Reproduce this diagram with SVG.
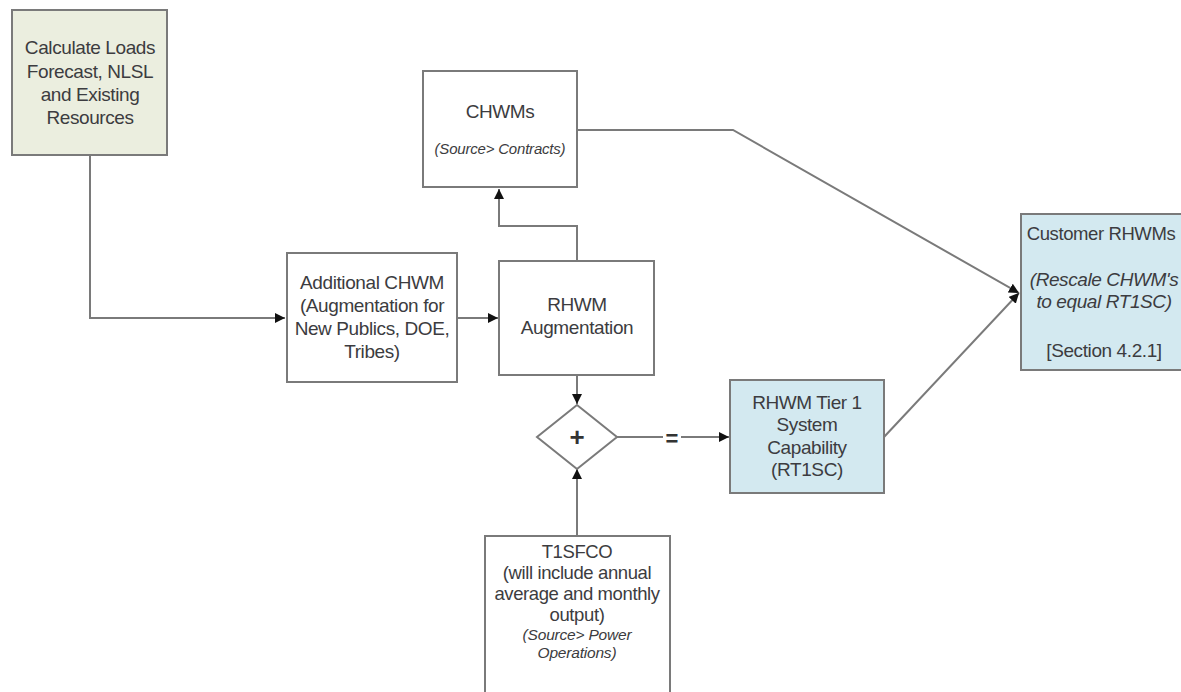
<svg xmlns="http://www.w3.org/2000/svg" width="1181" height="692" viewBox="0 0 1181 692">
<defs>
<marker id="arr" viewBox="0 0 10 10" refX="10" refY="5" markerWidth="10" markerHeight="10" markerUnits="userSpaceOnUse" orient="auto">
<path d="M0,0 L10,5 L0,10 z" fill="#111"/>
</marker>
</defs>
<style>
.box{fill:#fff;stroke:#7a7a7a;stroke-width:2}
.green{fill:#ebeedf}
.blue{fill:#d3e9f0}
.t{font-family:"Liberation Sans",Arial,sans-serif;font-size:19px;fill:#3c3c40;text-anchor:middle;letter-spacing:-0.4px}
.s{font-family:"Liberation Sans",Arial,sans-serif;font-size:15px;font-style:italic;fill:#3c3c40;text-anchor:middle;letter-spacing:-0.2px}
.i{font-style:italic}
.op{font-family:"Liberation Sans",Arial,sans-serif;font-size:26px;font-weight:bold;fill:#333;text-anchor:middle}
.c{fill:none;stroke:#7a7a7a;stroke-width:2}
</style>
<rect width="1181" height="692" fill="#fff"/>
<g id="connectors">
<polyline class="c" points="90,155 90,318 285,318" marker-end="url(#arr)"/>
<line class="c" x1="457" y1="318" x2="498" y2="318" marker-end="url(#arr)"/>
<polyline class="c" points="577,261 577,226 499,226 499,189" marker-end="url(#arr)"/>
<polyline class="c" points="577,130 733,130 1019,293" marker-end="url(#arr)"/>
<line class="c" x1="577" y1="375" x2="577" y2="404" marker-end="url(#arr)"/>
<line class="c" x1="577" y1="536" x2="577" y2="469" marker-end="url(#arr)"/>
<line class="c" x1="617" y1="437" x2="729" y2="437" marker-end="url(#arr)"/>
<polyline class="c" points="884,437 1019,293" marker-end="url(#arr)"/>
<rect x="663" y="427" width="18" height="20" fill="#fff"/>
<text class="op" x="672" y="446" style="font-size:22px">=</text>
</g>
<g id="calc-loads">
<rect class="box green" x="12" y="10" width="155" height="145"/>
<text class="t" x="90" y="54">Calculate Loads</text>
<text class="t" x="90" y="78">Forecast, NLSL</text>
<text class="t" x="90" y="101">and Existing</text>
<text class="t" x="90" y="124">Resources</text>
</g>
<g id="chwms">
<rect class="box" x="423" y="71" width="154" height="116"/>
<text class="t" x="500" y="118">CHWMs</text>
<text class="s" x="500" y="154">(Source&gt; Contracts)</text>
</g>
<g id="additional-chwm">
<rect class="box" x="287" y="253" width="170" height="129"/>
<text class="t" x="372" y="289">Additional CHWM</text>
<text class="t" x="372" y="312">(Augmentation for</text>
<text class="t" x="372" y="335">New Publics, DOE,</text>
<text class="t" x="372" y="358">Tribes)</text>
</g>
<g id="rhwm-augmentation">
<rect class="box" x="499" y="261" width="155" height="114"/>
<text class="t" x="577" y="311">RHWM</text>
<text class="t" x="577" y="334">Augmentation</text>
</g>
<g id="plus">
<polygon class="box" points="577,405 617,437 577,469 537,437"/>
<text class="op" x="577" y="446">+</text>
</g>
<g id="rt1sc">
<rect class="box blue" x="730" y="380" width="154" height="113"/>
<text class="t" x="807" y="409">RHWM Tier 1</text>
<text class="t" x="807" y="431">System</text>
<text class="t" x="807" y="454">Capability</text>
<text class="t" x="807" y="476">(RT1SC)</text>
</g>
<g id="customer-rhwms">
<rect class="box blue" x="1021" y="214" width="175" height="156"/>
<text class="t" x="1101" y="240" style="font-size:18.5px">Customer RHWMs</text>
<text class="t i" x="1104" y="286">(Rescale CHWM's</text>
<text class="t i" x="1104" y="308">to equal RT1SC)</text>
<text class="t" x="1104" y="357">[Section 4.2.1]</text>
</g>
<g id="t1sfco">
<rect class="box" x="485" y="536" width="185" height="170"/>
<text class="t" x="577" y="558" style="font-size:18.5px">T1SFCO</text>
<text class="t" x="577" y="579" style="font-size:18.5px">(will include annual</text>
<text class="t" x="577" y="600" style="font-size:18.5px">average and monthly</text>
<text class="t" x="577" y="621" style="font-size:18.5px">output)</text>
<text class="s" x="577" y="640" style="font-size:15.5px">(Source&gt; Power</text>
<text class="s" x="577" y="658" style="font-size:15.5px">Operations)</text>
</g>
</svg>
